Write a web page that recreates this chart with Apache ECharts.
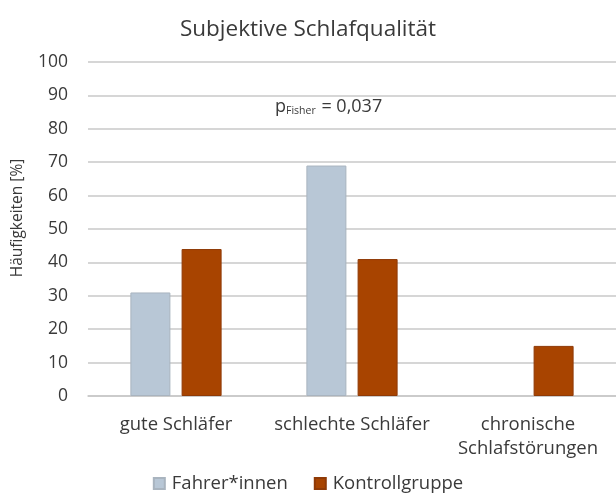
<!DOCTYPE html>
<html>
<head>
<meta charset="utf-8">
<script src="https://cdn.jsdelivr.net/npm/echarts@6/dist/echarts.min.js"></script>
<style>
  html, body { margin: 0; padding: 0; background: #fff; }
  #chart { width: 616px; height: 495px; }
</style>
</head>
<body>
<div id="chart"></div>
<script>
// Daten
var categories = ["gute Schläfer", "schlechte Schläfer", "chronische\nSchlafstörungen"];
var fahrer = [31, 69, 0];
var kontrolle = [44, 41, 15];
var yTicks = [0, 100, 10]; // min, max, interval

var font = "Open Sans";
var textColor = "#3a3a3a";

var chart = echarts.init(document.getElementById("chart"));

// Balken mit Wert 0 ohne Rahmen zeichnen
function toItems(values, border) {
	return values.map(function(v) {
		return { value: v, itemStyle: { borderWidth: v === 0 ? 0 : border } };
	});
}

var option = {
	animation: false,
	textStyle: { fontFamily: font },
	title: {
		text: "Subjektive Schlafqualität",
		left: "center",
		top: 13,
		textStyle: { fontSize: 22.5, fontWeight: "normal", color: textColor, fontFamily: font }
	},
	legend: {
		bottom: -3,
		left: "center",
		itemWidth: 11,
		itemHeight: 11,
		itemGap: 26,
		icon: "rect",
		textStyle: { fontSize: 18.5, color: textColor, fontFamily: font, padding: [0, 0, 0, 2] },
		data: ["Fahrer*innen", "Kontrollgruppe"]
	},
	grid: {
		left: 88,
		right: -4,
		top: 62,
		bottom: 99,
		containLabel: false
	},
	xAxis: {
		type: "category",
		data: categories,
		axisLine: { lineStyle: { color: "#c8c8c8", width: 1.5 } },
		axisTick: { show: false },
		axisLabel: { interval: 0, hideOverlap: false, fontSize: 18.5, color: textColor, margin: 17, lineHeight: 24, fontFamily: font }
	},
	yAxis: {
		type: "value",
		min: yTicks[0],
		max: yTicks[1],
		interval: yTicks[2],
		name: "Häufigkeiten [%]",
		nameLocation: "middle",
		nameGap: 62,
		nameTextStyle: { fontSize: 15.5, color: textColor, fontFamily: font, padding: [0, 0, 0, 22] },
		axisLine: { show: false },
		axisTick: { show: false },
		axisLabel: { fontSize: 17.5, color: textColor, margin: 20, fontFamily: font },
		splitLine: { lineStyle: { color: "#c8c8c8", width: 1.5 } }
	},
	series: [
		{
			name: "Fahrer*innen",
			type: "bar",
			data: toItems(fahrer, 1),
			barWidth: 40,
			barGap: "28%",
			itemStyle: { color: "#b8c7d6", borderColor: "#a9b4bf", borderWidth: 1 }
		},
		{
			name: "Kontrollgruppe",
			type: "bar",
			data: toItems(kontrolle, 1),
			barWidth: 40,
			itemStyle: { color: "#a84400", borderColor: "#8f3a06", borderWidth: 1 }
		}
	],
	graphic: [
		{
			type: "text",
			left: 275,
			top: 98,
			style: {
				text: "{p|p}{s|Fisher}{p| = 0,037}",
				rich: {
					p: { fontSize: 18, fill: textColor, fontFamily: font },
					s: { fontSize: 10.5, fill: textColor, fontFamily: font, verticalAlign: "bottom", padding: [8, 1, 0, 0] }
				}
			}
		}
	]
};

chart.setOption(option);
</script>
</body>
</html>
